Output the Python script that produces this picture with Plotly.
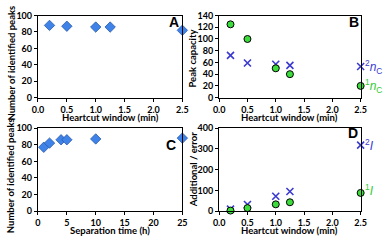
import plotly.graph_objects as go

# Panel A
a_x = [0.2, 0.5, 1.0, 1.25, 2.5]
a_y = [88, 87, 86, 86, 82]
# Panel B
b_x = [0.2, 0.5, 1.0, 1.25, 2.5]
b_n1 = [125, 100, 50, 40, 20]
b_n2 = [72, 59, 57, 55, 53]
# Panel C
c_x = [1, 2, 4, 5, 10, 25]
c_y = [77, 82, 86, 86, 87, 88]
# Panel D
d_x = [0.2, 0.5, 1.0, 1.25, 2.5]
d_i1 = [3, 15, 33, 43, 88]
d_i2 = [10, 32, 72, 95, 318]

FONT = "Lato, Liberation Sans, Arial"
BLUE_D = "#3f83e8"
GREEN = "#3ddc3d"
BLUE_X = "#3a3ad0"
GREEN_T = "#33cc33"

fig = go.Figure()

def diamond(x, y, xa, ya):
    fig.add_trace(go.Scatter(x=x, y=y, mode="markers", xaxis=xa, yaxis=ya,
        marker=dict(symbol="diamond", size=8, color=BLUE_D, line=dict(color="#2a5aa8", width=0.8)),
        cliponaxis=False, showlegend=False))

def circles(x, y, xa, ya):
    fig.add_trace(go.Scatter(x=x, y=y, mode="markers", xaxis=xa, yaxis=ya,
        marker=dict(symbol="circle", size=7, color=GREEN, line=dict(color="black", width=1)),
        cliponaxis=False, showlegend=False))

def crosses(x, y, xa, ya):
    fig.add_trace(go.Scatter(x=x, y=y, mode="markers", xaxis=xa, yaxis=ya,
        marker=dict(symbol="x-thin", size=7, color=BLUE_X, line=dict(color=BLUE_X, width=1.6)),
        cliponaxis=False, showlegend=False))

diamond(a_x, a_y, "x", "y")
crosses(b_x, b_n2, "x2", "y2")
circles(b_x, b_n1, "x2", "y2")
diamond(c_x, c_y, "x3", "y3")
crosses(d_x, d_i2, "x4", "y4")
circles(d_x, d_i1, "x4", "y4")

W, H = 387, 241
def px(v): return v / W
def py(v): return 1 - v / H

xdA = [px(33), px(182)]
xdB = [px(220), px(366)]
ydT = [py(96), py(10)]
ydB = [py(215), py(128)]

tickf = dict(family=FONT, size=9, color="black", weight="bold")
common = dict(showline=True, linecolor="black", linewidth=1.2, mirror=True,
              ticks="outside", ticklen=3, tickcolor="black", tickwidth=1,
              showgrid=False, zeroline=False, tickfont=tickf)
xt25 = dict(range=[0, 2.5], tickvals=[0, 0.5, 1, 1.5, 2, 2.5],
            ticktext=["0.0", "0.5", "1.0", "1.5", "2.0", "2.5"])

fig.update_layout(
    width=W, height=H, margin=dict(l=0, r=0, t=0, b=0),
    paper_bgcolor="white", plot_bgcolor="white",
    xaxis=dict(domain=xdA, anchor="y", **xt25, **common),
    yaxis=dict(domain=ydT, anchor="x", range=[0, 100], dtick=20, **common),
    xaxis2=dict(domain=xdB, anchor="y2", **xt25, **common),
    yaxis2=dict(domain=ydT, anchor="x2", range=[0, 140], dtick=20, **common),
    xaxis3=dict(domain=xdA, anchor="y3", range=[0, 25], dtick=5, **common),
    yaxis3=dict(domain=ydB, anchor="x3", range=[0, 100], dtick=20, **common),
    xaxis4=dict(domain=xdB, anchor="y4", **xt25, **common),
    yaxis4=dict(domain=ydB, anchor="x4", range=[0, 400], dtick=100, **common),
)

titf = dict(family=FONT, size=9.5, color="black", weight="bold")
ann = []
def paper_text(text, x, y, angle=0, font=titf, xanchor="center", yanchor="middle"):
    ann.append(dict(text=text, x=px(x), y=py(y), xref="paper", yref="paper",
                    showarrow=False, textangle=angle, font=font,
                    xanchor=xanchor, yanchor=yanchor))

paper_text("Heartcut window (min)", (33 + 182) / 2, 117)
paper_text("Heartcut window (min)", (220 + 366) / 2, 117)
paper_text("Separation time (h)", (33 + 182) / 2, 235)
paper_text("Heartcut window (min)", (220 + 366) / 2, 235)
paper_text("Number of identified peaks", 5.5, 60, angle=-90)
paper_text("Number of identified peaks", 5.5, 178, angle=-90)
paper_text("Peak capacity", 192, 55, angle=-90)
paper_text("Additional / error", 193, 172, angle=-90)

labf = dict(family="Liberation Sans, Arial", size=14, color="black", weight="bold")
paper_text("A", 173, 17, font=labf)
paper_text("B", 359, 17, font=labf)
paper_text("C", 170, 146, font=labf)
paper_text("D", 358, 133, font=labf)

lf_b = dict(family="Liberation Sans, Arial", size=12, color=BLUE_X)
lf_g = dict(family="Liberation Sans, Arial", size=12, color=GREEN_T)
ann.append(dict(text="<sup>2</sup><i>n</i><sub>C</sub>", x=2.5, y=b_n2[-1], xref="x2", yref="y2",
                showarrow=False, font=lf_b, xanchor="left", yanchor="middle", xshift=2))
ann.append(dict(text="<sup>1</sup><i>n</i><sub>C</sub>", x=2.5, y=b_n1[-1], xref="x2", yref="y2",
                showarrow=False, font=lf_g, xanchor="left", yanchor="middle", xshift=2))
ann.append(dict(text="<sup>2</sup><i>I</i>", x=2.5, y=d_i2[-1], xref="x4", yref="y4",
                showarrow=False, font=lf_b, xanchor="left", yanchor="middle", xshift=2))
ann.append(dict(text="<sup>1</sup><i>I</i>", x=2.5, y=d_i1[-1], xref="x4", yref="y4",
                showarrow=False, font=lf_g, xanchor="left", yanchor="middle", xshift=2, yshift=3))
fig.update_layout(annotations=ann)

fig.write_html("out.html", config={"displayModeBar": False},
               post_script="document.body.style.margin='0';document.body.style.overflow='hidden';")
